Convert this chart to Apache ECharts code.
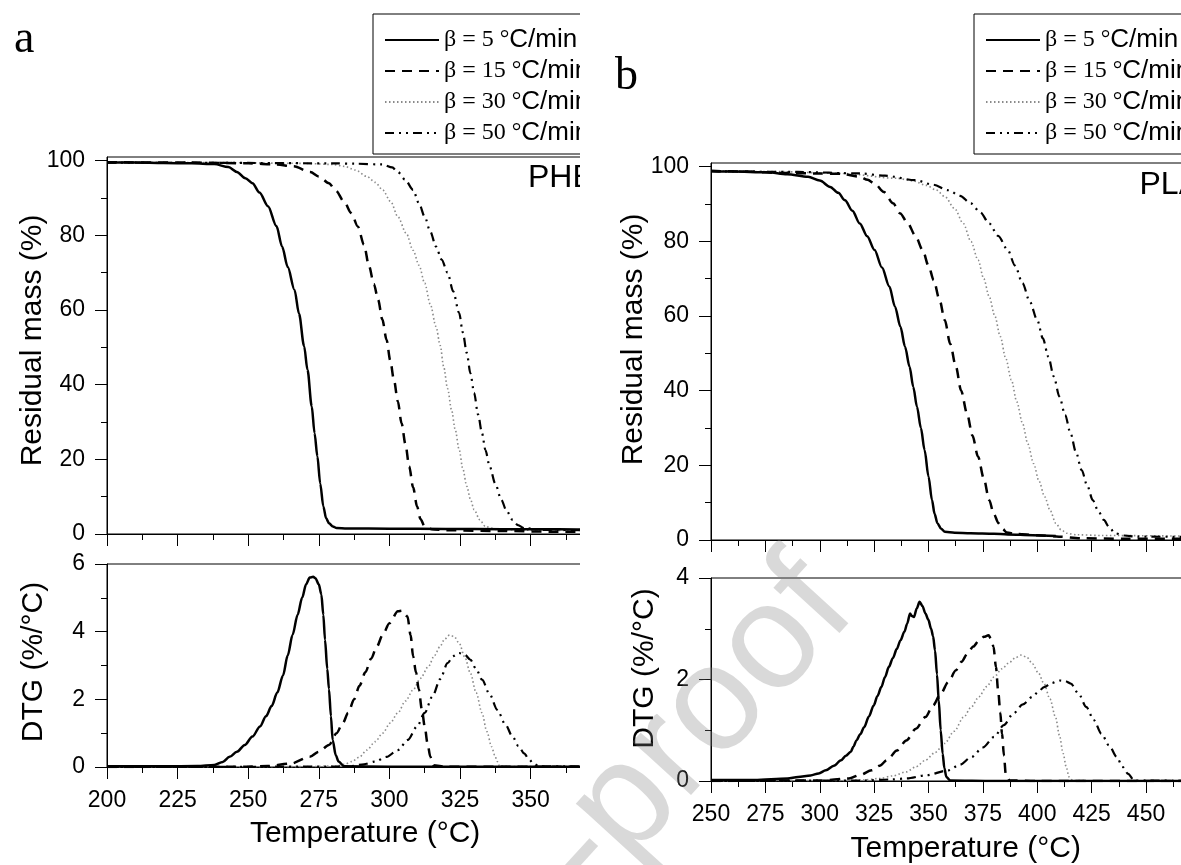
<!DOCTYPE html>
<html><head><meta charset="utf-8">
<script src="https://cdn.jsdelivr.net/npm/echarts@6/dist/echarts.min.js"></script>
<style>
html,body{margin:0;padding:0;background:#fff;}
#wrapA{position:absolute;left:0;top:0;width:580px;height:865px;overflow:hidden;}
#wrapB{position:absolute;left:580px;top:0;width:601px;height:865px;overflow:hidden;}
#chartA{width:680px;height:865px;}
#chartB{width:700px;height:865px;}
#mark{position:absolute;left:0;top:0;width:1181px;height:865px;pointer-events:none;}
</style></head><body>
<div id="wrapA"><div id="chartA"></div></div>
<div id="wrapB"><div id="chartB"></div></div>
<div id="mark"></div>
<script>
// ---------- data ----------
const seriesNames = ['β = 5 °C/min', 'β = 15 °C/min', 'β = 30 °C/min', 'β = 50 °C/min'];
const massTicks = [0, 20, 40, 60, 80, 100];
const massMinorTicks = [10, 30, 50, 70, 90];
const tempLabelsA = [200, 225, 250, 275, 300, 325, 350];
const tempLabelsB = [250, 275, 300, 325, 350, 375, 400, 425, 450];

// Panel a (PHB) residual mass, [T, %]
const phbMass5 = [[200,99.5],[210,99.5],[220,99.4],[230,99.3],[238,99.1],[243,98.3],[246,97.0],[249,95.3],[251.5,94],[254,91.5],[257,87.8],[260,82.5],[262,77],[264,71.5],[266.4,65.4],[268,59],[269.8,50.3],[271,44],[272.5,34.2],[273.5,27],[274.5,20.8],[275.5,13.5],[276.6,7.4],[277.6,4.2],[278.6,2.9],[280,2.0],[281.3,1.6],[285,1.5],[300,1.4],[320,1.35],[340,1.3],[360,1.25],[375,1.2]];
const phbMass15 = [[200,99.6],[230,99.5],[250,99.3],[260,99.0],[266,98.5],[272,97],[275,95.8],[278.6,94],[281,92],[284,89],[286.5,86],[288.8,82.4],[291,77.5],[292.8,71.7],[294.5,67],[296,62.8],[297.5,57.5],[299,52],[300.3,46.5],[301.6,41.3],[303,35.5],[304.3,29.7],[305.7,24],[307,18.1],[308.4,12.5],[309.8,7.4],[311,4],[312.5,2],[315,1.3],[320,1.0],[340,0.8],[360,0.6],[375,0.5]];
const phbMass30 = [[200,99.6],[240,99.5],[270,99.3],[280,99.0],[284,98.5],[288,97.5],[292,95.8],[295,94.2],[297.6,92.2],[300.5,89],[303,85],[306,80.5],[308.4,76],[310.5,72],[312.5,67.2],[314.5,61.5],[316.5,55.6],[318,50.5],[319.2,44.9],[320.6,39],[322,33.3],[323.3,28],[324.7,22.6],[326,17.5],[327.4,12.8],[328.7,9.3],[330,6.5],[332,3.8],[334,2.0],[338,1.2],[350,1.0],[375,0.9]];
const phbMass50 = [[200,99.5],[250,99.4],[280,99.3],[288,99.2],[297.6,99],[301,98.2],[303,97],[305.5,95],[308.4,92.2],[310.5,88.5],[312.5,85],[314.5,81],[316.5,77],[318.5,73.5],[320.6,70],[322.6,65],[324.7,59.2],[326,54],[327.4,48.5],[328.7,43],[330,37.8],[331.4,32],[332.8,27],[334,22.5],[335.5,18.1],[337.5,13.5],[339.6,9.2],[341.5,6.2],[343.6,3.8],[345.5,2.4],[347.7,1.6],[355,1.1],[375,1.0]];

// Panel a (PHB) DTG, [T, %/°C]
const phbDtg5 = [[200,0.02],[220,0.02],[232,0.03],[238,0.06],[241,0.15],[243.4,0.3],[246,0.45],[248.8,0.65],[251.5,0.9],[254.2,1.2],[256.3,1.5],[258.3,1.8],[260.3,2.2],[262.3,2.7],[264,3.3],[265.7,3.9],[267.5,4.5],[269.1,5.0],[270.5,5.4],[271.8,5.6],[273,5.62],[273.8,5.58],[275,5.4],[275.9,5.1],[276.6,4.5],[277.2,3.76],[278,2.9],[278.6,2.3],[279.3,1.5],[279.9,0.8],[281,0.35],[282,0.16],[284,0.02],[300,0.01],[375,0.01]];
const phbDtg15 = [[200,0],[250,0.01],[257,0.03],[265,0.1],[271.8,0.3],[275,0.45],[278.6,0.65],[281.3,1.0],[283.5,1.3],[285.4,1.6],[287.5,2.0],[289.4,2.4],[291.5,2.8],[293.5,3.2],[295.5,3.55],[297.6,3.9],[300,4.25],[303,4.6],[304.5,4.62],[306.4,4.45],[307.5,3.9],[308.4,3.27],[309.4,2.8],[310.4,2.3],[311.5,1.7],[312.5,1.2],[313.5,0.7],[314.5,0.3],[315.5,0.05],[320,0.01],[375,0.01]];
const phbDtg30 = [[200,0],[270,0.01],[281.3,0.03],[284,0.08],[286.7,0.16],[289.5,0.3],[292,0.5],[295,0.75],[297.6,1.0],[300.3,1.3],[303,1.6],[305.7,1.95],[308.4,2.28],[311,2.62],[313.8,2.97],[316,3.3],[317.9,3.56],[319.6,3.78],[321.3,3.9],[323,3.85],[324.7,3.66],[326.7,3.25],[328.7,2.77],[330.7,2.2],[332.8,1.6],[334.5,1.05],[336.2,0.6],[337.3,0.35],[338.2,0.16],[339,0.02],[345,0.01],[375,0.01]];
const phbDtg50 = [[200,0],[280,0.01],[286.7,0.03],[291,0.08],[294.9,0.16],[299,0.3],[303,0.5],[306.5,0.8],[309.8,1.2],[312.5,1.6],[315.2,2.08],[318,2.6],[320.6,3.07],[322.6,3.28],[324.7,3.37],[326.7,3.32],[328.7,3.17],[330.7,2.9],[332.8,2.58],[335.5,2.15],[338.2,1.69],[341,1.27],[343.6,0.9],[345.7,0.62],[347.7,0.4],[349.5,0.22],[351,0.1],[353,0.02],[375,0.01]];

// Panel b (PLA) residual mass
const plaMass5 = [[250,98.8],[260,98.7],[275.9,98.5],[285,98.0],[294.6,97.3],[300,96.3],[304.8,94.6],[308.5,93],[311.6,91],[315,88.2],[318.4,84.8],[321.8,81.4],[325.2,77.7],[328.6,73],[332,67.9],[334.6,62.5],[337.1,57.1],[339.2,51.8],[341.3,46.4],[343,41],[344.7,35.7],[346.5,30],[348.2,24.1],[350,17],[351.6,10.7],[352.8,7],[354.1,4.5],[355.8,3],[357.5,2.2],[362,1.95],[369.4,1.8],[380,1.65],[386.4,1.5],[398,1.3],[408.5,1.1]];
const plaMass15 = [[250,98.9],[265,98.7],[284.4,98.3],[300,98.2],[309.9,98.1],[318.4,97.3],[322,96.5],[325.2,95.5],[329.5,93.2],[333.7,90.2],[337,87.5],[340.5,84.8],[344,81.5],[347.3,77.7],[350,73.5],[352.4,69.6],[355,64.5],[357.5,58.9],[360,52.5],[362.6,46.4],[365,40],[367.7,33.9],[370.2,28],[372.8,22.3],[375.4,16.5],[377.9,10.7],[380,7],[382.2,4.5],[384,3],[386,2],[390,1.6],[400,1.3],[410,0.9],[420,0.45],[440,0.35],[475,0.3]];
const plaMass30 = [[250,98.9],[280,98.7],[309.9,98.2],[335.4,96.9],[343,96.2],[349,95],[353.5,93.8],[357.5,92],[362,88.8],[366,84.8],[369.5,80],[372.8,75],[375.4,70],[377.9,65.2],[380.5,60],[383,54.5],[385.5,48.7],[388.1,42.9],[390.6,37],[393.2,31.3],[395.7,25.7],[398.3,20.5],[400.8,15.8],[403.4,11.6],[406,7.8],[408.5,4.5],[411,2.7],[413.6,1.8],[418,1.4],[430,1.2],[475,1.0]];
const plaMass50 = [[250,98.8],[290,98.6],[318.4,98.2],[330,97.6],[343.9,96.4],[352,95.2],[359.2,93.7],[364.5,92.2],[369.4,90.2],[373.8,87.8],[377.9,84.8],[382,81.5],[386.4,77.7],[389.8,73.5],[393.2,68.8],[396.6,63.8],[400,58.9],[402.6,54],[405.1,49.1],[407.6,43.8],[410.2,38.4],[412.8,33.5],[415.3,28.6],[417.8,23.5],[420.4,18.75],[423,14.5],[425.5,10.7],[428,7.8],[430.6,5.4],[433,3.5],[435.7,1.8],[440,1.2],[446,0.9],[475,0.8]];

// Panel b (PLA) DTG
const plaDtg5 = [[250,0.02],[270,0.02],[285.2,0.05],[290,0.08],[295.8,0.11],[299.5,0.15],[302.8,0.21],[306.5,0.3],[309.8,0.41],[312,0.5],[314.2,0.57],[315.5,0.68],[316.9,0.8],[318.6,0.92],[320.4,1.06],[322.6,1.27],[324.8,1.49],[326.5,1.67],[328.3,1.85],[330,2.05],[331.8,2.25],[333.6,2.42],[335.4,2.6],[337.1,2.77],[338.9,2.94],[340.2,3.1],[341.5,3.3],[342.4,3.25],[343.3,3.23],[344.6,3.4],[345.9,3.53],[347.2,3.45],[348.6,3.3],[349.9,3.18],[351.2,3.0],[352.1,2.85],[353,2.57],[353.9,2.1],[354.7,1.59],[355.6,1.0],[356.5,0.54],[357.3,0.25],[358.2,0.08],[360,0.01],[380,0.0],[475,0.0]];
const plaDtg15 = [[250,0],[300,0.01],[313.4,0.05],[318.5,0.12],[323.9,0.21],[327.5,0.3],[330.9,0.41],[335.5,0.6],[339.8,0.8],[344.2,1.03],[348.6,1.26],[352.1,1.49],[355.6,1.72],[359.1,1.95],[362.6,2.18],[365.2,2.35],[367.9,2.51],[370.6,2.65],[373.2,2.77],[375.5,2.84],[377.6,2.87],[378.8,2.8],[379.9,2.64],[381,2.25],[382,1.79],[383,1.35],[383.8,0.93],[384.7,0.5],[385.5,0.14],[387.3,0.01],[400,0],[475,0]];
const plaDtg30 = [[250,0],[310,0.01],[320,0.02],[327.4,0.05],[333.5,0.1],[339.8,0.18],[344.2,0.28],[348.6,0.41],[353,0.56],[357.4,0.74],[361.8,0.98],[366.2,1.26],[369.7,1.46],[373.2,1.66],[376.7,1.86],[380.2,2.05],[383.7,2.21],[387.3,2.34],[390,2.43],[392.6,2.48],[395.2,2.44],[397.8,2.31],[400.5,2.13],[403.1,1.92],[405.8,1.62],[408.4,1.26],[410.2,0.9],[411.9,0.54],[413.3,0.28],[414.6,0.08],[416.3,0.01],[430,0],[475,0]];
const plaDtg50 = [[250,0],[320,0.01],[333,0.03],[339.8,0.05],[348.6,0.11],[359.1,0.21],[364.4,0.32],[369.7,0.47],[375,0.66],[380.2,0.87],[384.6,1.1],[389,1.33],[393.4,1.51],[397.8,1.66],[400.5,1.76],[403.1,1.85],[406.7,1.93],[410.2,1.98],[412.8,1.97],[415.4,1.92],[419,1.72],[422.5,1.46],[426,1.2],[429.5,0.93],[433,0.7],[436.6,0.47],[439.2,0.28],[441.8,0.14],[444.5,0.01],[475,0]];

// ---------- styling ----------
const SANS = '"Liberation Sans", Arial, sans-serif';
const SERIF = '"Liberation Serif", "Times New Roman", serif';
const STYLE = [
  {color:'#000', width:2.5, type:'solid', z:5},
  {color:'#000', width:2.5, type:[10,7], z:4},
  {color:'#8a8a8a', width:1.6, type:[1.5,2.5], z:2},
  {color:'#000', width:2.2, type:[9,5,2,5,2,5], z:3}
];

function lineSeries(idx, data, xi, yi) {
  const st = STYLE[idx];
  return {
    type:'line', name: seriesNames[idx], data, xAxisIndex:xi, yAxisIndex:yi,
    showSymbol:false, symbol:'none', smooth:0.3, smoothMonotone:'x', clip:true,
    lineStyle:{color:st.color, width:st.width, type:st.type, cap:'butt'},
    itemStyle:{color:st.color}, z:st.z, silent:true, emphasis:{disabled:true}
  };
}

function legendFormatter(name) {
  const i = name.indexOf('°');
  return '{s|' + name.slice(0, i + 1) + '}{a|' + name.slice(i + 1) + '}';
}

function panelOption(p) {
  const axisLineStyle = {color:'#000', width:1};
  const xCommon = (gi, showLabel) => ({
    gridIndex: gi, type:'value', min:p.xMin, max:p.xMax, interval:25,
    axisLine:{show:true, onZero:false, lineStyle:axisLineStyle},
    axisTick:{show:true, inside:false, length:12, lineStyle:axisLineStyle},
    minorTick:{show:true, splitNumber:2, length:6, lineStyle:axisLineStyle},
    splitLine:{show:false}, minorSplitLine:{show:false},
    axisLabel:{show:showLabel, margin:22, fontSize:23, fontFamily:SANS, color:'#000',
      formatter: v => (p.xLabels.indexOf(v) >= 0 ? String(v) : '')}
  });
  const xLower = xCommon(1, true);
  Object.assign(xLower, {
    name:'Temperature (°C)', nameLocation:'middle', nameGap:p.xNameGap, nameMoveOverlap:false,
    nameTextStyle:{fontSize:30, fontFamily:SANS, color:'#000', padding:[0,0,0,p.xNamePad]}
  });
  return {
    animation:false,
    backgroundColor:'#fff',
    textStyle:{fontFamily:SANS},
    grid:[
      {left:p.axisX, top:p.upTop, width:p.gridW, height:p.upH, show:true, borderColor:'#000', borderWidth:1, backgroundColor:'transparent'},
      {left:p.axisX, top:p.lowTop, width:p.gridW, height:p.lowH, show:true, borderColor:'#000', borderWidth:1, backgroundColor:'transparent'}
    ],
    xAxis:[xCommon(0, false), xLower],
    yAxis:[
      {gridIndex:0, type:'value', min:0, max:101, position:'left',
       axisLine:{show:true, onZero:false, lineStyle:axisLineStyle},
       axisTick:{show:true, length:12, customValues:massTicks, lineStyle:axisLineStyle},
       axisLabel:{show:true, customValues:massTicks, margin:22, fontSize:23, fontFamily:SANS, color:'#000'},
       splitLine:{show:false},
       name:'Residual mass (%)', nameLocation:'middle', nameGap:p.resGap, nameMoveOverlap:false,
       nameTextStyle:{fontSize:30, fontFamily:SANS, color:'#000', padding:[0,0,0,p.resPad]}},
      {gridIndex:0, type:'value', min:0, max:101, position:'left',
       axisLine:{show:false},
       axisTick:{show:true, length:6, customValues:massMinorTicks, lineStyle:axisLineStyle},
       axisLabel:{show:false}, splitLine:{show:false}},
      {gridIndex:1, type:'value', min:0, max:p.dtgMax, interval:2, position:'left',
       axisLine:{show:true, onZero:false, lineStyle:axisLineStyle},
       axisTick:{show:true, length:12, lineStyle:axisLineStyle},
       minorTick:{show:true, splitNumber:2, length:6, lineStyle:axisLineStyle},
       axisLabel:{show:true, margin:22, fontSize:23, fontFamily:SANS, color:'#000'},
       splitLine:{show:false}, minorSplitLine:{show:false},
       name:'DTG (%/°C)', nameLocation:'middle', nameGap:p.dtgGap, nameMoveOverlap:false,
       nameTextStyle:{fontSize:30, fontFamily:SANS, color:'#000', padding:[0,0,0,p.dtgPad]}}
    ],
    legend:{
      data:seriesNames, orient:'vertical', left:p.legendLeft, top:14,
      padding:[13,10,8,11], itemGap:5, itemWidth:54, itemHeight:22,
      borderColor:'#000', borderWidth:1, borderRadius:0, backgroundColor:'#fff',
      selectedMode:false, formatter:legendFormatter,
      itemStyle:{opacity:0},
      textStyle:{color:'#000', rich:{
        s:{fontFamily:SERIF, fontSize:24, color:'#000'},
        a:{fontFamily:SANS, fontSize:26, color:'#000'}
      }}
    },
    graphic:[
      {type:'text', x:p.tagX, y:p.tagY, silent:true,
       style:{text:p.tag, font:'32px ' + SANS, fill:'#000', align:'left', verticalAlign:'middle'}},
      {type:'text', x:p.letterX, y:p.letterY, silent:true,
       style:{text:p.letter, font:'46px ' + SERIF, fill:'#000', align:'left', verticalAlign:'middle'}}
    ],
    series:[
      lineSeries(2, p.mass[2], 0, 0), lineSeries(3, p.mass[3], 0, 0),
      lineSeries(1, p.mass[1], 0, 0), lineSeries(0, p.mass[0], 0, 0),
      lineSeries(2, p.dtg[2], 1, 2), lineSeries(3, p.dtg[3], 1, 2),
      lineSeries(1, p.dtg[1], 1, 2), lineSeries(0, p.dtg[0], 1, 2)
    ]
  };
}

const chartA = echarts.init(document.getElementById('chartA'), null, {renderer:'canvas'});
chartA.setOption(panelOption({
  axisX:107, gridW:494.2, xMin:200, xMax:375, xLabels:tempLabelsA,
  upTop:157, upH:377, lowTop:564, lowH:203, dtgMax:6,
  xNameGap:52, xNamePad:22, resGap:59, resPad:10, dtgGap:58, dtgPad:7,
  legendLeft:373, tag:'PHB', tagX:528, tagY:178, letter:'a', letterX:14, letterY:40,
  mass:[phbMass5, phbMass15, phbMass30, phbMass50],
  dtg:[phbDtg5, phbDtg15, phbDtg30, phbDtg50]
}));

const chartB = echarts.init(document.getElementById('chartB'), null, {renderer:'canvas'});
chartB.setOption(panelOption({
  axisX:131, gridW:489.4, xMin:250, xMax:475, xLabels:tempLabelsB,
  upTop:163, upH:377, lowTop:578, lowH:204, dtgMax:4,
  xNameGap:53, xNamePad:20, resGap:62, resPad:24, dtgGap:51, dtgPad:22,
  legendLeft:394, tag:'PLA', tagX:559.5, tagY:185, letter:'b', letterX:35, letterY:77,
  mass:[plaMass5, plaMass15, plaMass30, plaMass50],
  dtg:[plaDtg5, plaDtg15, plaDtg30, plaDtg50]
}));

const mark = echarts.init(document.getElementById('mark'), null, {renderer:'canvas'});
mark.setOption({
  animation:false, backgroundColor:'transparent',
  graphic:[{type:'text', x:828, y:584, rotation:0.83, silent:true,
    style:{text:'Journal Pre-proof', font:'150px ' + SANS, fill:'rgba(128,128,128,0.3)', align:'right', verticalAlign:'middle'}}]
});
</script>
</body></html>
